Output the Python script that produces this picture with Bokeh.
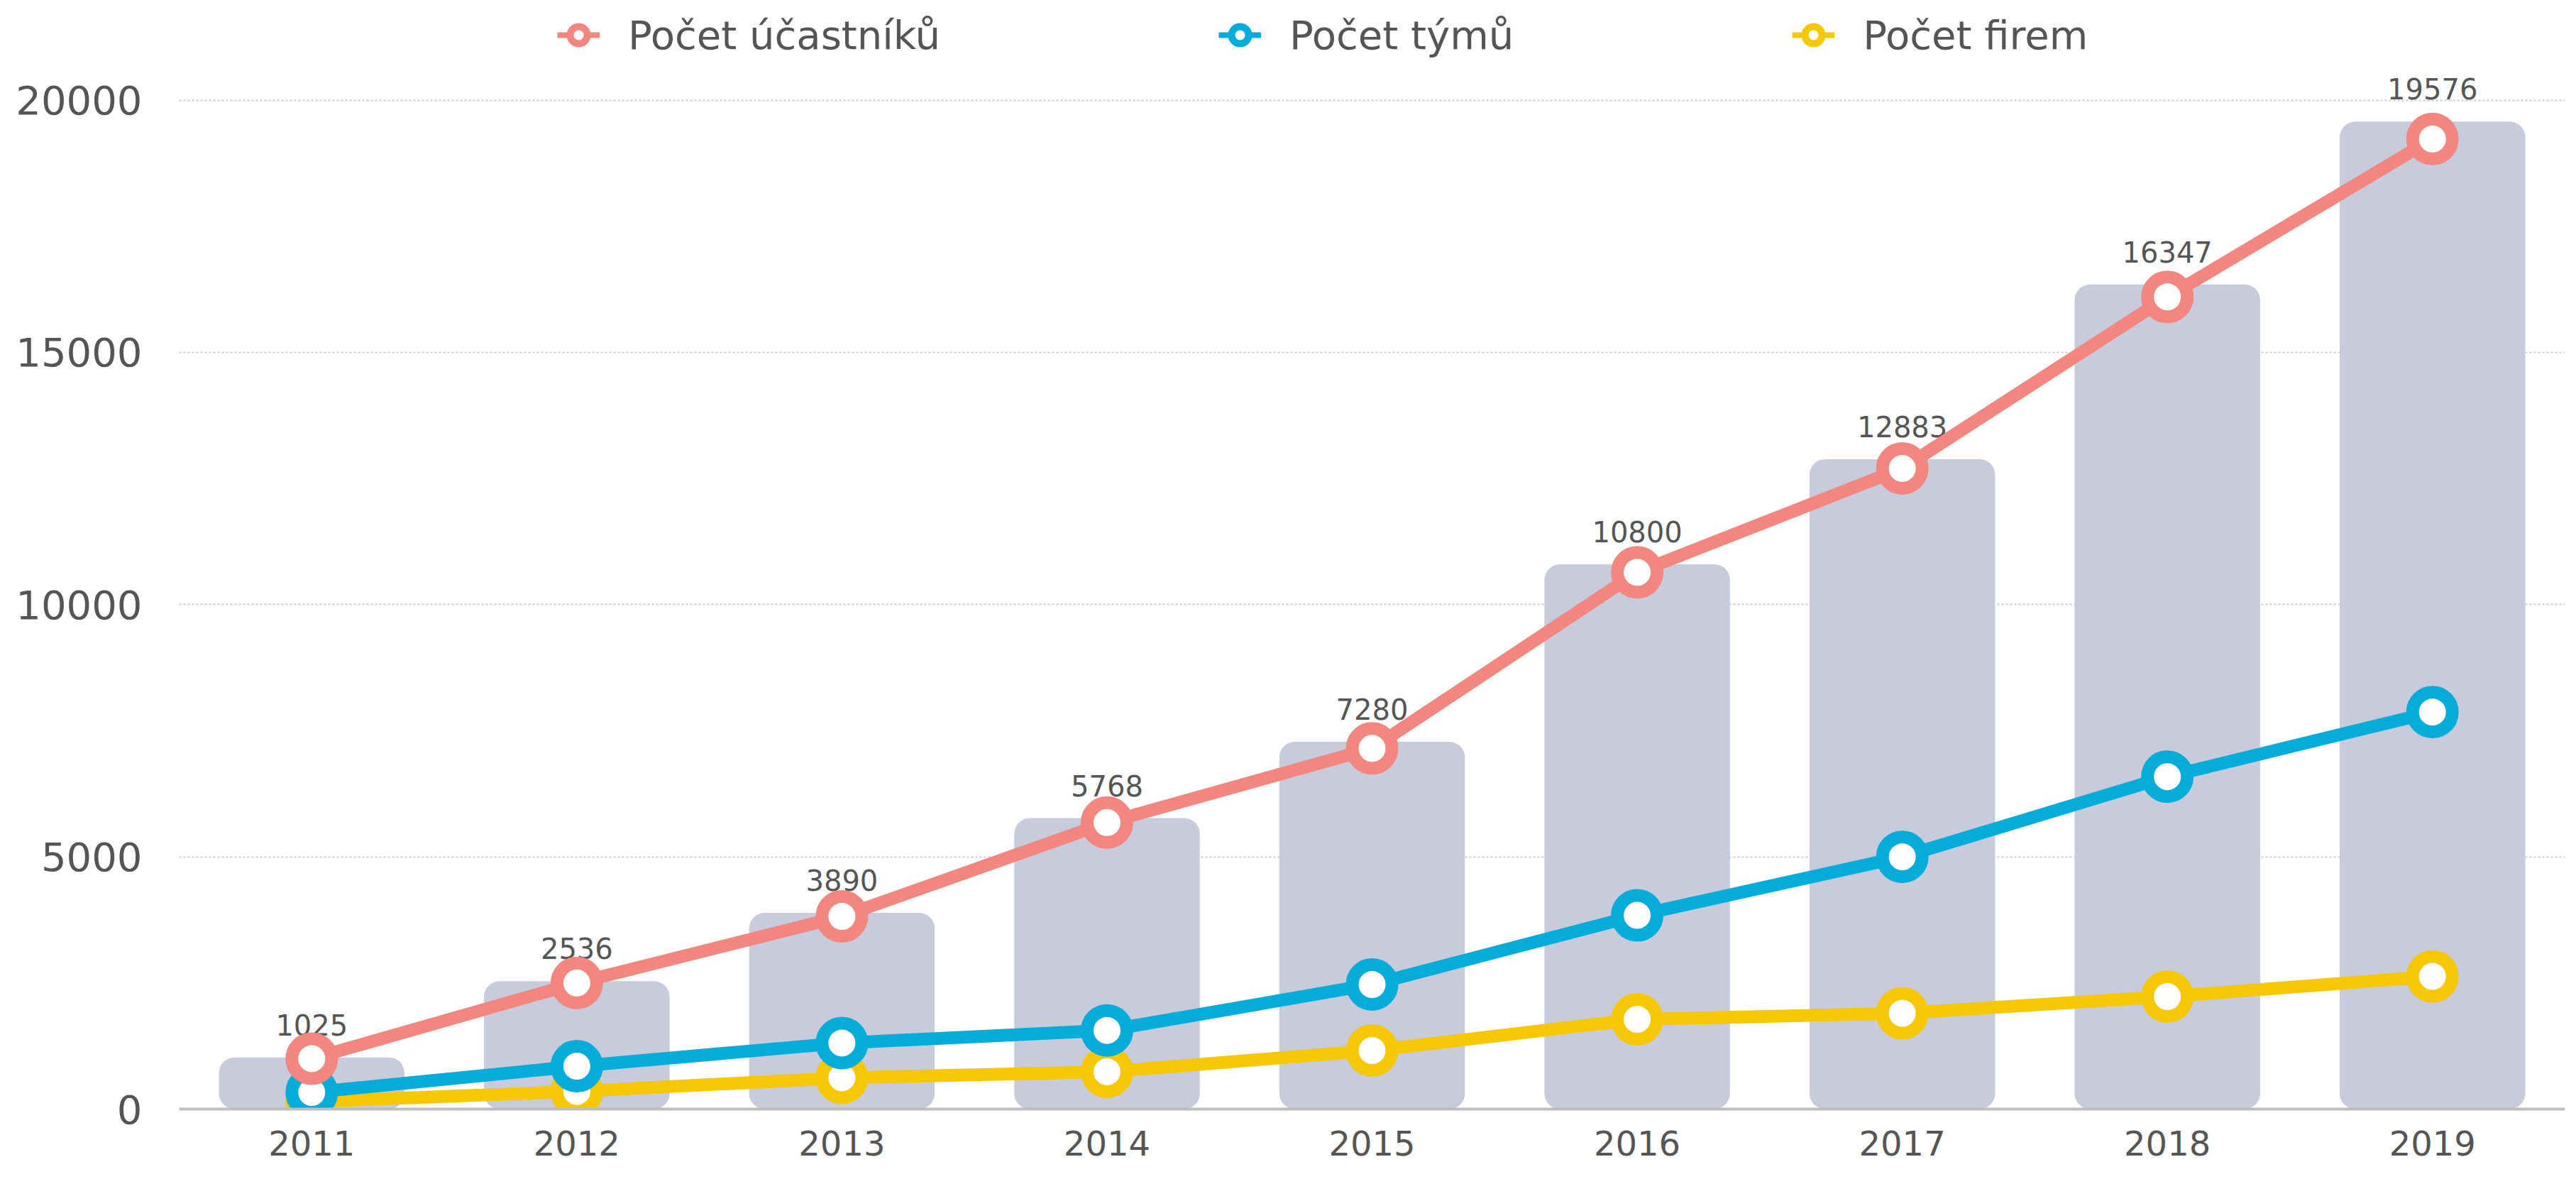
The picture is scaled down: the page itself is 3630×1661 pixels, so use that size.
from bokeh.plotting import figure
from bokeh.models import ColumnDataSource, Legend, LegendItem, FixedTicker, Range1d, FactorRange
from bokeh.core.properties import value
from bokeh.embed import file_html
from bokeh.resources import INLINE

# ---- data ----
years = ["2011", "2012", "2013", "2014", "2015", "2016", "2017", "2018", "2019"]
participants_bar = [1025, 2536, 3890, 5768, 7280, 10800, 12883, 16347, 19576]
participants_line = [1000, 2500, 3820, 5680, 7150, 10640, 12700, 16100, 19230]
teams = [330, 850, 1310, 1560, 2470, 3840, 5000, 6590, 7870]
firms = [150, 350, 620, 740, 1160, 1780, 1900, 2230, 2630]
y_ticks = [0, 5000, 10000, 15000, 20000]
series_names = ["Počet účastníků", "Počet týmů", "Počet firem"]

PINK = "#f2877f"
BLUE = "#05abd9"
YELLOW = "#f6c704"
BAR = "#c7cbdb"
TEXT = "#555555"
FONT = "DejaVu Sans"

src = ColumnDataSource(dict(
    year=years,
    bar=participants_bar,
    bar_label=[str(v) for v in participants_bar],
    pink=participants_line,
    blue=teams,
    yellow=firms,
))

p = figure(
    width=3614, height=1645,
    x_range=FactorRange(*years, range_padding=0),
    y_range=Range1d(0, 21852),
    output_backend="svg", toolbar_location=None,
    min_border_left=252, min_border_right=0, min_border_top=9, min_border_bottom=83,
)
# range used only so the legend-icon renderers draw nothing inside the frame
p.extra_y_ranges = {"legend_only": Range1d(-2000000, -1000000)}
p.outline_line_color = None
p.background_fill_color = "white"
p.border_fill_color = "white"

# grid
p.xgrid.grid_line_color = None
p.ygrid.ticker = FixedTicker(ticks=y_ticks)
p.ygrid.grid_line_color = "#cccccc"
p.ygrid.grid_line_dash = "3 3"
p.ygrid.grid_line_width = 2

# axes
p.yaxis.ticker = FixedTicker(ticks=y_ticks)
p.yaxis.axis_line_color = None
p.yaxis.major_tick_line_color = None
p.yaxis.major_tick_out = 0
p.yaxis.major_tick_in = 0
p.yaxis.minor_tick_line_color = None
p.yaxis.major_label_text_font = FONT
p.yaxis.major_label_text_font_size = "56px"
p.yaxis.major_label_text_color = TEXT
p.yaxis.major_label_standoff = 52

p.xaxis.axis_line_color = "#bdbdbd"
p.xaxis.axis_line_width = 4
p.xaxis.major_tick_line_color = None
p.xaxis.major_tick_out = 0
p.xaxis.major_tick_in = 0
p.xaxis.minor_tick_line_color = None
p.xaxis.major_label_text_font = FONT
p.xaxis.major_label_text_font_size = "48px"
p.xaxis.major_label_text_color = TEXT
p.xaxis.major_label_standoff = 30

# bars
p.vbar(x="year", top="bar", width=0.7, source=src, fill_color=BAR, line_color=None,
       border_radius=22)

# bar labels
p.text(x="year", y="bar", text="bar_label", source=src,
       text_font=value(FONT), text_font_size="40px", text_color=TEXT,
       text_align="center", text_baseline="alphabetic", y_offset=-46)

# lines + markers
for col, color in [("yellow", YELLOW), ("blue", BLUE), ("pink", PINK)]:
    p.line(x="year", y=col, source=src, line_color=color, line_width=18)
    p.scatter(x="year", y=col, source=src, marker="circle", size=56,
              fill_color="white", line_color=color, line_width=18)

# legend icons (thinner style, drawn off-frame so only the legend shows them)
items = []
for name, col, color in zip(series_names, ["pink", "blue", "yellow"], [PINK, BLUE, YELLOW]):
    lr = p.line(x="year", y=col, source=src, line_color=color, line_width=8,
                y_range_name="legend_only")
    sr = p.scatter(x="year", y=col, source=src, marker="circle", size=30,
                   fill_color="white", line_color=color, line_width=10,
                   y_range_name="legend_only")
    items.append(LegendItem(label=name, renderers=[lr, sr]))

legend = Legend(items=items, orientation="horizontal", location=(533, 1473),
                glyph_width=60, glyph_height=80, label_standoff=40, spacing=392,
                padding=0, margin=0, border_line_color=None,
                background_fill_alpha=0,
                label_text_font=FONT, label_text_font_size="56px",
                label_text_color=TEXT)
p.add_layout(legend)

open("out.html", "w").write(file_html(p, INLINE))
